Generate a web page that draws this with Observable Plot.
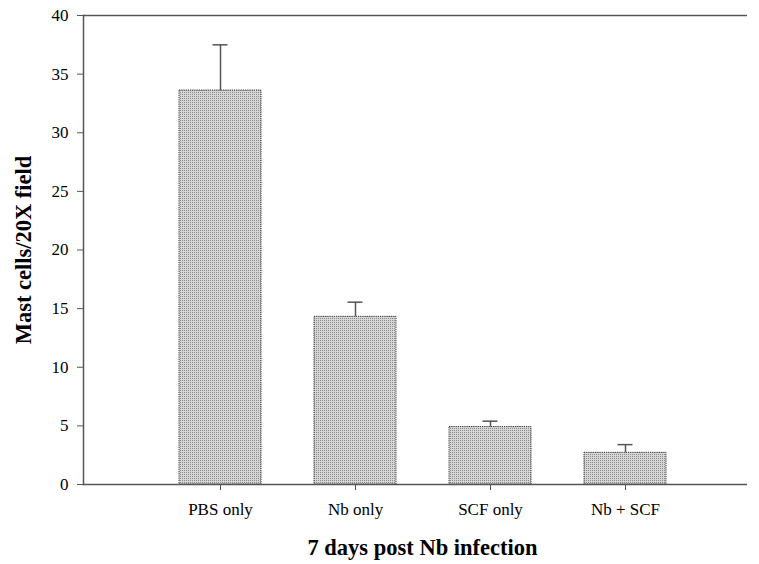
<!DOCTYPE html>
<html>
<head>
<meta charset="utf-8">
<script src="https://cdn.jsdelivr.net/npm/d3@7"></script>
<script src="https://cdn.jsdelivr.net/npm/@observablehq/plot@0.6"></script>
<style>
  html, body { margin: 0; padding: 0; background: #fff; }
  #chart svg { display: block; }
</style>
</head>
<body>
<div id="chart"></div>
<script>
const categories = ["PBS only", "Nb only", "SCF only", "Nb + SCF"];
const means = [33.6, 14.3, 4.9, 2.7];
const errors = [3.9, 1.25, 0.5, 0.7];
const yTicks = [0, 5, 10, 15, 20, 25, 30, 35, 40];

const data = categories.map((c, i) => ({ cat: c, mean: means[i], top: means[i] + errors[i] }));

const font = "'Liberation Serif', 'Times New Roman', serif";
const lineColor = "#555";

const plot = Plot.plot({
  width: 759,
  height: 564,
  marginLeft: 83,
  marginRight: 12,
  marginTop: 15,
  marginBottom: 80,
  style: { fontFamily: font, fontSize: "17px", color: "#000", background: "#fff" },
  x: { domain: categories, paddingInner: 0.395, paddingOuter: 0.1975, insetLeft: 68, insetRight: 54 },
  y: { domain: [0, 40] },
  marks: [
    Plot.barY(data, { x: "cat", y: "mean", fill: "url(#dots)", stroke: "#333", strokeWidth: 1, strokeDasharray: "1.2,1" }),
    Plot.ruleX(data, { x: "cat", y1: "mean", y2: "top", stroke: lineColor, strokeWidth: 1.5 }),
    Plot.tickY(data, { x: "cat", y: "top", stroke: lineColor, strokeWidth: 1.5, insetLeft: 33.5, insetRight: 33.5 }),
    Plot.ruleY([0], { stroke: lineColor, strokeWidth: 1.5 }),
    Plot.ruleY([40], { stroke: lineColor, strokeWidth: 1.5 }),
    Plot.frame({ anchor: "left", stroke: lineColor, strokeWidth: 1.5 }),
    Plot.axisY({ ticks: yTicks, tickSize: 6, tickPadding: 9, stroke: lineColor, fontSize: 17,
      label: "Mast cells/20X field", labelAnchor: "center", labelArrow: "none", labelOffset: 68 }),
    Plot.axisX({ tickSize: 6, tickPadding: 12, stroke: lineColor, fontSize: 17,
      label: "7 days post Nb infection", labelAnchor: "center", labelArrow: "none", labelOffset: 70 })
  ]
});

// pattern for dotted bar fill
const ns = "http://www.w3.org/2000/svg";
const defs = document.createElementNS(ns, "defs");
defs.innerHTML = `<pattern id="dots" width="2" height="2" patternUnits="userSpaceOnUse">
  <rect width="2" height="2" fill="#d6d6d6"/>
  <rect width="1" height="1" fill="#8c8c8c"/>
</pattern>`;
plot.insertBefore(defs, plot.firstChild);

// bold axis labels
plot.querySelectorAll("[aria-label='y-axis label'] text").forEach(t => {
  t.setAttribute("font-weight", "bold");
  t.setAttribute("font-size", "22.5");
});
plot.querySelectorAll("[aria-label='x-axis label'] text").forEach(t => {
  t.setAttribute("font-weight", "bold");
  t.setAttribute("font-size", "22.5");
  t.setAttribute("dx", "7");
});

document.getElementById("chart").appendChild(plot);
</script>
</body>
</html>
